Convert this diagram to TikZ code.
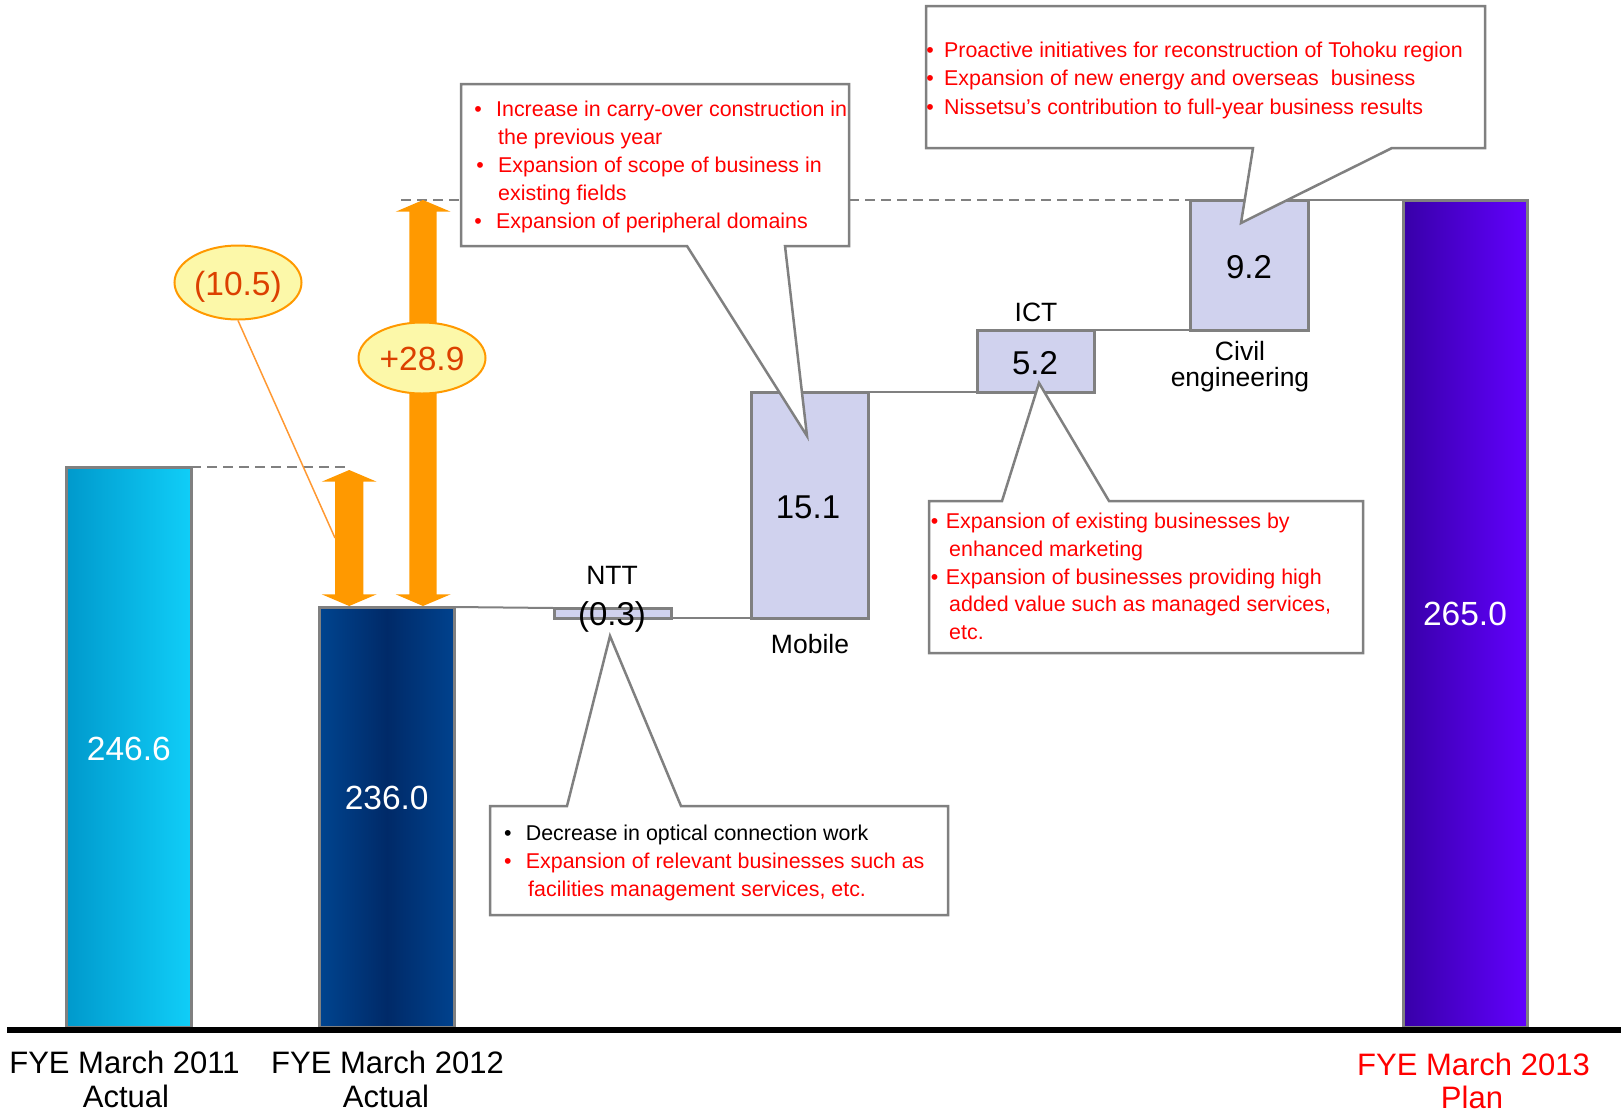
\documentclass[tikz,border=0pt]{standalone}
\usepackage{fontspec}
\setmainfont{Liberation Sans}
\usetikzlibrary{shapes.geometric}

\definecolor{linegray}{HTML}{808080}
\definecolor{stepfill}{HTML}{D0D2EE}
\definecolor{barAl}{HTML}{0099CC}
\definecolor{barAr}{HTML}{10CEF8}
\definecolor{barBl}{HTML}{00448F}
\definecolor{barBm}{HTML}{002A68}
\definecolor{barBr}{HTML}{00428E}
\definecolor{barCl}{HTML}{3800A8}
\definecolor{barCr}{HTML}{6200FF}
\definecolor{arroworange}{HTML}{FF9900}
\definecolor{bubblefill}{HTML}{FCF8A9}
\definecolor{bubbletext}{HTML}{DC4000}
\definecolor{leaderorange}{HTML}{FF9933}
\definecolor{notered}{HTML}{FF0000}

% hanging bullet placed a given gap (pt) left of the text start
\newcommand\bul[1]{\llap{\textbullet\hspace{#1pt}}}

\begin{document}
\begin{tikzpicture}[x=1pt,y=-1pt,
  colbar/.style={draw=linegray,line width=3pt,inner sep=0pt,outer sep=0pt,anchor=north west},
  stepbox/.style={colbar,fill=stepfill},
  joinline/.style={draw=linegray,line width=2pt},
  dashline/.style={draw=linegray,line width=2pt,dash pattern=on 10pt off 6pt},
  notebox/.style={draw=linegray,line width=2.5pt,fill=white,line join=miter},
  arrowbody/.style={fill=arroworange},
  bubble/.style={ellipse,draw=arroworange,fill=bubblefill,line width=2pt,inner sep=0pt,
                 minimum width=127pt,minimum height=74pt},
  bubtxt/.style={anchor=base,inner sep=0pt,text=bubbletext,font=\fontsize{33.5}{40}\selectfont},
  valtxt/.style={anchor=base,inner sep=0pt,font=\fontsize{33}{40}\selectfont},
  bartxt/.style={anchor=base,inner sep=0pt,text=white,font=\fontsize{33.5}{40}\selectfont},
  cattxt/.style={anchor=base,inner sep=0pt,font=\fontsize{26.5}{31}\selectfont},
  axistxt/.style={anchor=base,inner sep=0pt,font=\fontsize{31}{37}\selectfont},
  notetxt/.style={anchor=base west,inner sep=0pt,text=notered,font=\fontsize{21.4}{26}\selectfont},
]
\useasboundingbox (0,0) rectangle (1621,1114);

% ---- totals and steps ----
\node[colbar,left color=barAl,right color=barAr,minimum width=125pt,minimum height=560pt] (b1) at (66,467) {};
\node[colbar,shading=axis,shading angle=90,left color=barBl,right color=barBr,middle color=barBm,
      minimum width=135pt,minimum height=420pt] (b2) at (319.5,607) {};
\node[colbar,left color=barCl,right color=barCr,minimum width=124pt,minimum height=827pt] (b3) at (1403,200) {};
\node[stepbox,minimum width=117pt,minimum height=10pt] (ntt) at (554,608) {};
\node[stepbox,minimum width=117pt,minimum height=226pt] (mob) at (751,392) {};
\node[stepbox,minimum width=117pt,minimum height=62pt] (ict) at (977,330) {};
\node[stepbox,minimum width=118pt,minimum height=130pt] (civ) at (1190,200) {};

% ---- step connectors ----
\draw[joinline] (b2.north east) -- (ntt.north west);
\draw[joinline] (ntt.south east) -- (mob.south west);
\draw[joinline] (mob.north east) -- (ict.south west);
\draw[joinline] (ict.north east) -- (civ.south west);
\draw[joinline] (civ.north east) -- (b3.north west);
\coordinate (d1end) at (351,467);
\draw[dashline] (b1.north east) -- (d1end);
\coordinate (d2start) at (401,200);
\draw[dashline] (d2start) -- (civ.north west);

% ---- axis ----
\coordinate (axl) at (7,1030);
\coordinate (axr) at (1621,1030);
\draw[line width=5.4pt] (axl) -- (axr);

% ---- difference arrows ----
\coordinate (lead) at (335,538);
\fill[arrowbody] (349.2,470) -- (376.7,481.7) -- (363.3,481.7) -- (363.3,594.3) -- (376.7,594.3)
  -- (349.2,606) -- (321.7,594.3) -- (335,594.3) -- (335,481.7) -- (321.7,481.7) -- cycle;
\fill[arrowbody] (423,200) -- (450.7,211.7) -- (436.7,211.7) -- (436.7,594.3) -- (450.7,594.3)
  -- (423,606) -- (395.7,594.3) -- (409.3,594.3) -- (409.3,211.7) -- (395.7,211.7) -- cycle;

\node[bubble] (e1) at (238,282.5) {};
\node[bubble,minimum height=71pt] (e2) at (422,358) {};
\draw[leaderorange,line width=1.5pt] (e1.south) -- (lead);
\node[bubtxt] (e1t) at (238,295) {(10.5)};
\node[bubtxt] (e2t) at (422,370) {+28.9};

% ---- callout boxes ----
\draw[notebox] (461,84) -- (849,84) -- (849,246) -- (785,246) -- (807,436) -- (687,246) -- (461,246) -- cycle;
\draw[notebox] (926,6) -- (1485,6) -- (1485,148) -- (1392,148) -- (1241,223) -- (1253,148) -- (926,148) -- cycle;
\draw[notebox] (929,501) -- (1002,501) -- (1039,383) -- (1109,501) -- (1363,501) -- (1363,653) -- (929,653) -- cycle;
\draw[notebox] (490,806) -- (567,806) -- (610,636) -- (681,806) -- (948,806) -- (948,915) -- (490,915) -- cycle;

% mobile notes
\node[notetxt] (m1) at (496,116.5) {\bul{14.25}Increase in carry-over construction in};
\node[notetxt] (m2) at (498,144.4) {the previous year};
\node[notetxt] (m3) at (498,172.3) {\bul{14.25}Expansion of scope of business in};
\node[notetxt] (m4) at (498,200.2) {existing fields};
\node[notetxt] (m5) at (496,228.1) {\bul{14.25}Expansion of peripheral domains};

% civil engineering notes
\node[notetxt] (c1) at (944,57.5) {\bul{10.25}Proactive initiatives for reconstruction of Tohoku region};
\node[notetxt] (c2) at (944,85.8) {\bul{10.25}Expansion of new energy and overseas\ \ business};
\node[notetxt] (c3) at (944,114.1) {\bul{10.25}Nissetsu{\char"0027}s contribution to full-year business results};

% ICT notes
\node[notetxt] (i1) at (945.7,528.5) {\bul{7.65}Expansion of existing businesses by};
\node[notetxt] (i2) at (949,556.3) {enhanced marketing};
\node[notetxt] (i3) at (945.7,584.1) {\bul{7.65}Expansion of businesses providing high};
\node[notetxt] (i4) at (949,611.9) {added value such as managed services,};
\node[notetxt] (i5) at (949,639.7) {etc.};

% NTT notes
\node[notetxt,text=black] (n1) at (525.7,840.7) {\bul{14.25}Decrease in optical connection work};
\node[notetxt] (n2) at (525.7,868.4) {\bul{14.25}Expansion of relevant businesses such as};
\node[notetxt] (n3) at (528,896) {facilities management services, etc.};

% ---- values and labels ----
\node[bartxt] (v1) at (128.8,760) {246.6};
\node[bartxt] (v2) at (386.7,809) {236.0};
\node[bartxt] (v3) at (1465,625) {265.0};
\node[valtxt] (v151) at (808,518) {15.1};
\node[valtxt] (v92) at (1249,278) {9.2};
\node[valtxt] (v52) at (1035,374) {5.2};
\node[valtxt] (v03) at (612,625) {(0.3)};
\node[cattxt] (lntt) at (612,584) {NTT};
\node[cattxt] (lmob) at (810,653) {Mobile};
\node[cattxt] (lict) at (1036,321) {ICT};
\node[cattxt] (lciv1) at (1240,360) {Civil};
\node[cattxt] (lciv2) at (1240,386) {engineering};

\node[axistxt] (y1a) at (124.5,1073) {FYE March 2011};
\node[axistxt] (y1b) at (126,1107) {Actual};
\node[axistxt] (y2a) at (387.5,1073) {FYE March 2012};
\node[axistxt] (y2b) at (386,1107) {Actual};
\node[axistxt,text=notered] (y3a) at (1473.5,1075) {FYE March 2013};
\node[axistxt,text=notered] (y3b) at (1472,1108) {Plan};
\end{tikzpicture}
\end{document}
